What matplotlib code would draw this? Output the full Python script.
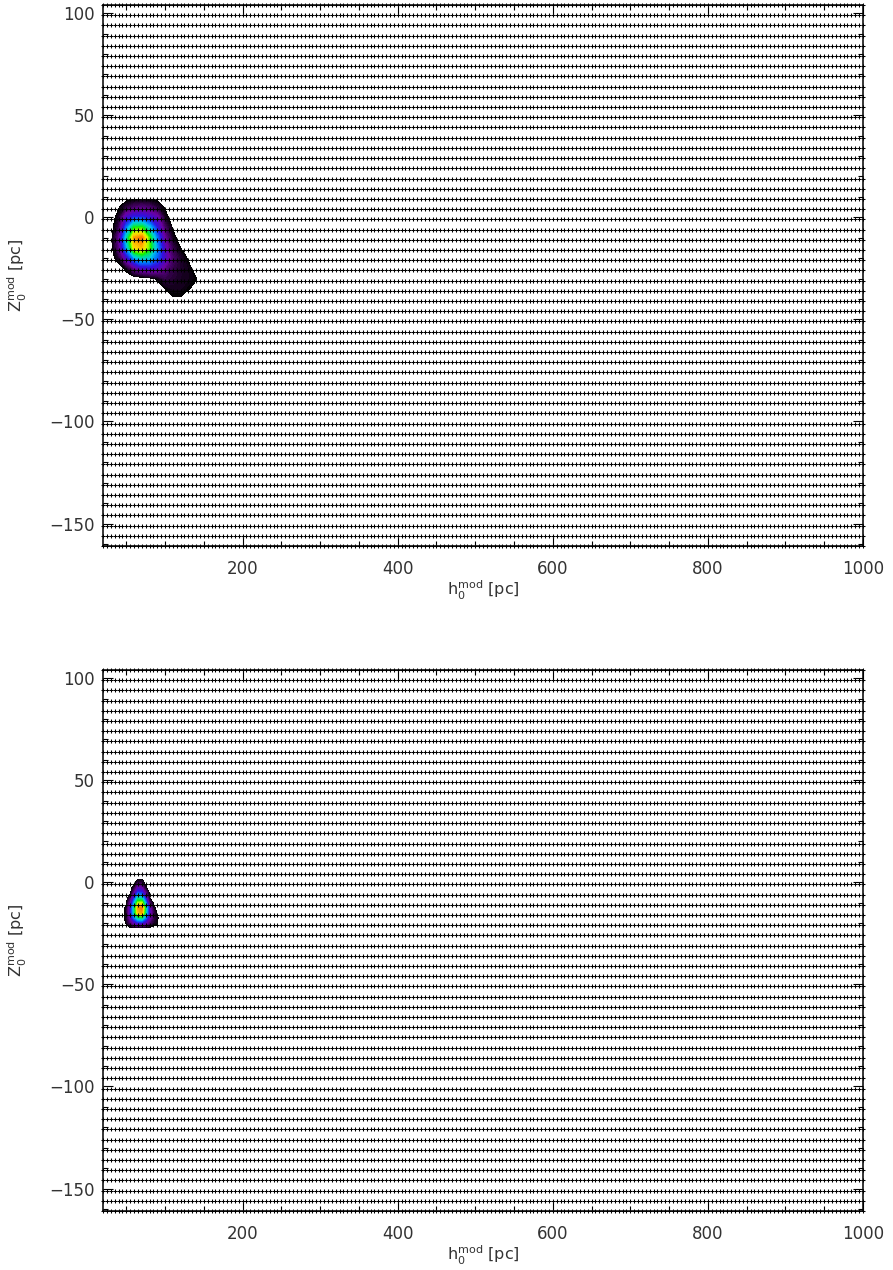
import numpy as np
import matplotlib
matplotlib.use("Agg")
import matplotlib.pyplot as plt
from matplotlib.colors import LinearSegmentedColormap, Normalize
from matplotlib.ticker import MultipleLocator

plt.rcParams["font.family"] = ["DejaVu Sans"]
plt.rcParams["mathtext.fontset"] = "dejavusans"

# ---- model grid (h0, Z0) in pc ----
h_nodes = np.arange(20, 1001, 5)
z_nodes = np.arange(104, -162, -5)

# ---- posterior density, upper panel ----
top_h = [20, 30, 40, 50, 60, 70, 80, 90, 100, 110, 120, 130, 140, 150]
top_z = [15, 10, 5, 0, -5, -10, -15, -20, -25, -30, -35, -40, -45]
top_density = [
    [0, 0, 0, 0, 0, 0, 0, 0, 0, 0, 0, 0, 0, 0],
    [0, 0, 0, 0, 0, 0, 0, 0, 0, 0, 0, 0, 0, 0],
    [0, 0, 0.03, 0.10, 0.16, 0.18, 0.16, 0.10, 0.03, 0, 0, 0, 0, 0],
    [0, 0, 0.07, 0.30, 0.38, 0.38, 0.33, 0.26, 0.07, 0, 0, 0, 0, 0],
    [0, 0, 0.12, 0.45, 0.72, 0.74, 0.56, 0.36, 0.15, 0.03, 0, 0, 0, 0],
    [0, 0, 0.20, 0.58, 0.95, 1.00, 0.74, 0.46, 0.22, 0.07, 0, 0, 0, 0],
    [0, 0, 0.18, 0.50, 0.88, 0.92, 0.76, 0.50, 0.28, 0.12, 0.04, 0, 0, 0],
    [0, 0, 0.08, 0.30, 0.50, 0.60, 0.56, 0.44, 0.30, 0.16, 0.09, 0.03, 0, 0],
    [0, 0, 0, 0.06, 0.20, 0.30, 0.32, 0.30, 0.20, 0.12, 0.09, 0.065, 0, 0],
    [0, 0, 0, 0, 0, 0, 0.02, 0.05, 0.12, 0.10, 0.08, 0.07, 0.045, 0],
    [0, 0, 0, 0, 0, 0, 0, 0, 0.04, 0.07, 0.07, 0.045, 0.02, 0],
    [0, 0, 0, 0, 0, 0, 0, 0, 0, 0.03, 0.03, 0, 0, 0],
    [0, 0, 0, 0, 0, 0, 0, 0, 0, 0, 0, 0, 0, 0],
]

# ---- posterior density, lower panel ----
bot_h = [45, 50, 55, 60, 65, 70, 75, 80, 85, 90, 95]
bot_z = [5, 2.5, 0, -2.5, -5, -7.5, -10, -12.5, -15, -17.5, -20, -22.5, -25]
bot_density = [
    [0, 0, 0, 0, 0, 0, 0, 0, 0, 0, 0],
    [0, 0, 0, 0, 0, 0, 0, 0, 0, 0, 0],
    [0, 0, 0, 0, 0.10, 0.10, 0, 0, 0, 0, 0],
    [0, 0, 0, 0.08, 0.25, 0.22, 0.05, 0, 0, 0, 0],
    [0, 0, 0.02, 0.18, 0.40, 0.38, 0.18, 0.02, 0, 0, 0],
    [0, 0, 0.10, 0.35, 0.60, 0.58, 0.32, 0.04, 0, 0, 0],
    [0, 0.03, 0.20, 0.50, 0.80, 0.82, 0.50, 0.15, 0.03, 0, 0],
    [0, 0.06, 0.30, 0.62, 0.95, 1.00, 0.65, 0.28, 0.08, 0, 0],
    [0, 0.07, 0.30, 0.60, 0.90, 0.95, 0.62, 0.30, 0.12, 0.02, 0],
    [0, 0.07, 0.25, 0.45, 0.62, 0.65, 0.45, 0.25, 0.12, 0.05, 0],
    [0, 0.05, 0.15, 0.25, 0.33, 0.33, 0.26, 0.15, 0.08, 0.045, 0],
    [0, 0.01, 0.01, 0.01, 0.01, 0.01, 0.01, 0.01, 0.01, 0.01, 0],
    [0, 0, 0, 0, 0, 0, 0, 0, 0, 0, 0],
]

x_ticks = [200, 400, 600, 800, 1000]
y_ticks = [-150, -100, -50, 0, 50, 100]

rainbow = LinearSegmentedColormap.from_list("rainbow_white", [
    (0.00, "#000000"),
    (0.08, "#300045"),
    (0.20, "#6a00a0"),
    (0.33, "#3010e0"),
    (0.44, "#0070ff"),
    (0.54, "#00c8e8"),
    (0.64, "#00e080"),
    (0.72, "#10f000"),
    (0.82, "#c8ff00"),
    (0.89, "#ffd800"),
    (1.00, "#ff7800"),
])
levels = np.linspace(0.04, 1.0, 70)
norm = Normalize(0.04, 1.0)

fig = plt.figure(figsize=(8.93, 12.70), dpi=100)
W, H = 893.0, 1270.0
panels = [
    (fig.add_axes([103 / W, 1 - 546 / H, 760 / W, 541 / H]), top_h, top_z, top_density),
    (fig.add_axes([103 / W, 1 - 1211 / H, 760 / W, 541 / H]), bot_h, bot_z, bot_density),
]

hh, zz = np.meshgrid(h_nodes, z_nodes)
for ax, dh, dz, dens in panels:
    ax.contourf(dh, dz, np.array(dens), levels=levels, cmap=rainbow, norm=norm,
                extend="max", zorder=1)
    ax.plot(hh.ravel(), zz.ravel(), ls="none", marker="+", ms=2.6, mew=0.75,
            color="black", zorder=2, clip_on=False)
    ax.set_xlim(20, 1000)
    ax.set_ylim(-161, 104)
    ax.set_xticks(x_ticks)
    ax.set_yticks(y_ticks)
    ax.xaxis.set_minor_locator(MultipleLocator(50))
    ax.yaxis.set_minor_locator(MultipleLocator(10))
    ax.tick_params(which="both", direction="in", top=True, right=True,
                   labelsize=12, width=0.8, color="black", labelcolor="#333333")
    ax.tick_params(axis="x", which="major", length=7.5, pad=10)
    ax.tick_params(axis="x", which="minor", length=3.8)
    ax.tick_params(axis="y", which="major", length=7.5, pad=6)
    ax.tick_params(axis="y", which="minor", length=3.8)
    for s in ax.spines.values():
        s.set_linewidth(1.1)
        s.set_zorder(3)
    ax.set_xlabel(r"h$_0^{\rm mod}$ [pc]", fontsize=11.5, labelpad=0.5, color="#333333")
    ax.set_ylabel(r"Z$_0^{\rm mod}$ [pc]", fontsize=11.5, color="#333333")
    ax.yaxis.set_label_coords(-0.097, 0.5)

fig.savefig("out.png", dpi=100)
